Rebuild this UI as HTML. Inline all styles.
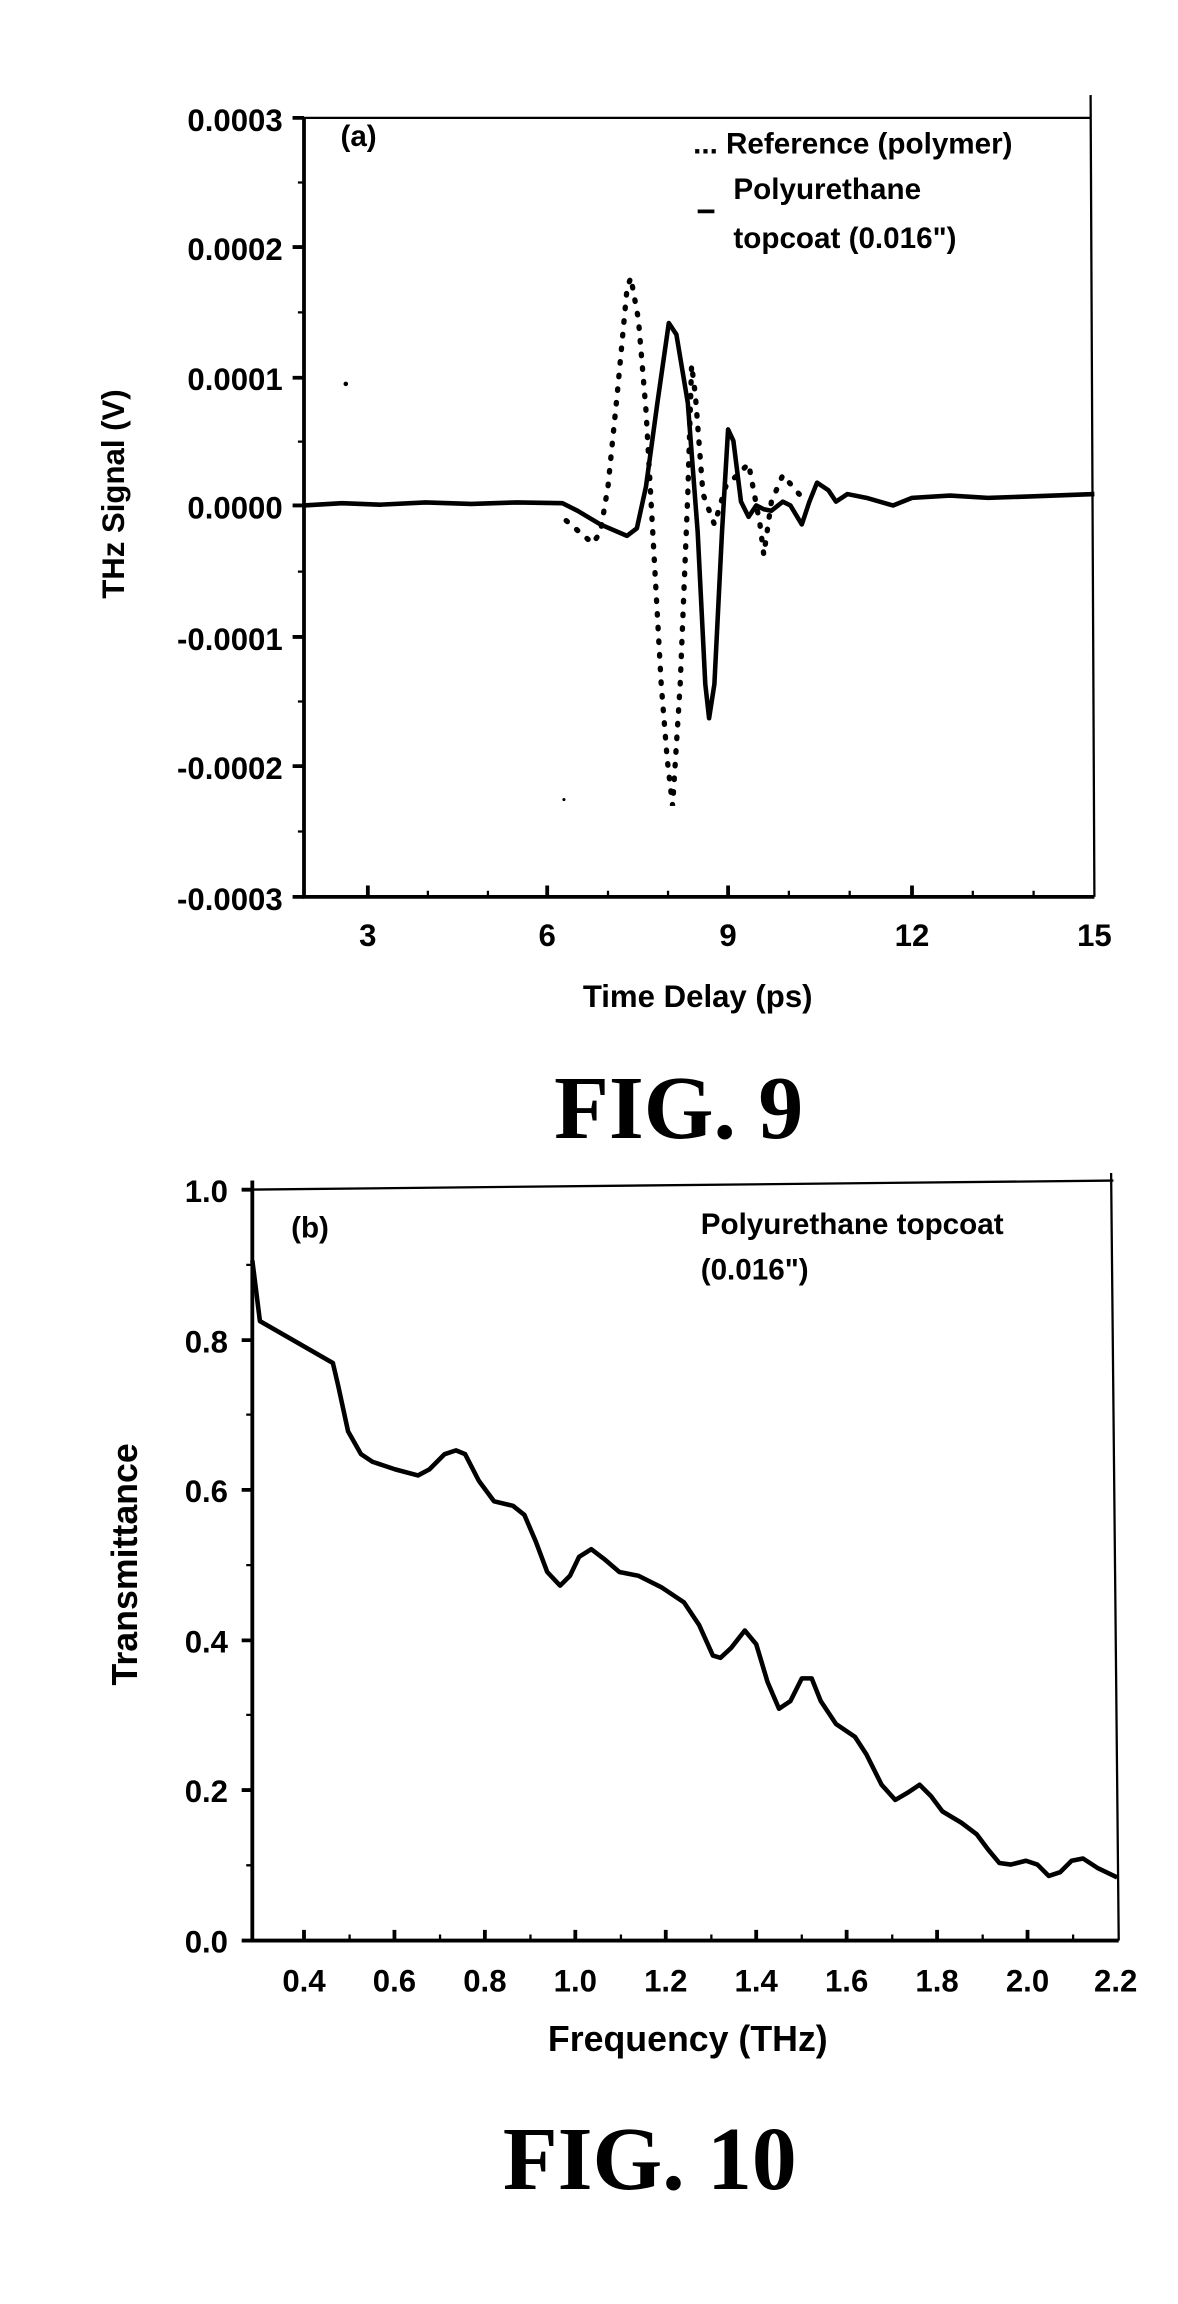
<!DOCTYPE html>
<html><head><style>
html,body{margin:0;padding:0;background:#fff;}
svg{position:absolute;left:0;display:block;}
text{font-family:"Liberation Sans",sans-serif;font-weight:bold;fill:#000;}
.fig{font-family:"Liberation Serif",serif;font-weight:bold;}
</style></head><body>
<svg style="top:0" width="1178" height="1150" viewBox="0 0 1550 1513">
<g stroke="#000" stroke-width="5" fill="none">
<line x1="400" y1="155" x2="400" y2="1182"/>
<line x1="398" y1="1180" x2="1440" y2="1180"/>
<line x1="385" y1="155" x2="1435" y2="155" stroke-width="3"/>
<line x1="1435" y1="125" x2="1440" y2="1180" stroke-width="3"/>
<path d="M385 155H400M385 325H400M385 497H400M385 665H400M385 838H400M385 1008H400M385 1180H400"/>
<path d="M392 240H400M392 411H400M392 581H400M392 752H400M392 923H400M392 1094H400" stroke-width="3"/>
<path d="M484 1180V1165M720 1180V1165M958 1180V1165M1200 1180V1165"/>
<path d="M563 1180V1172M642 1180V1172M800 1180V1172M879 1180V1172M1038 1180V1172M1118 1180V1172M1280 1180V1172M1360 1180V1172" stroke-width="3"/>
<polyline stroke-width="6" stroke-linejoin="round" points="400,665 450,662 500,664 560,661 620,663 680,661 740,662 760,672 790,690 825,705 838,695 850,640 865,530 880,425 890,440 905,530 918,700 928,900 933,945 940,900 950,700 958,565 965,580 975,660 985,680 995,665 1005,670 1015,672 1030,660 1040,665 1055,690 1065,660 1075,635 1090,645 1100,660 1115,650 1140,655 1175,665 1200,655 1250,652 1300,655 1360,653 1440,650"/>
<polyline stroke-width="7" stroke-dasharray="2 16" stroke-linecap="round" points="745,685 780,715 790,700 800,640 812,520 825,380 830,365 840,420 850,540 860,720 870,900 878,1000 885,1060 895,900 905,650 910,480 915,520 925,650 940,690 955,640 965,630 985,610 1000,690 1005,730 1015,660 1030,625 1060,660"/>
<line x1="918" y1="278" x2="940" y2="278" stroke-width="5"/>
</g>
<circle cx="455" cy="505" r="3"/>
<circle cx="742" cy="1052" r="2"/>
<g font-size="41" text-anchor="end">
<text x="372" y="172">0.0003</text>
<text x="372" y="342">0.0002</text>
<text x="372" y="513">0.0001</text>
<text x="372" y="682">0.0000</text>
<text x="372" y="855">-0.0001</text>
<text x="372" y="1025">-0.0002</text>
<text x="372" y="1197">-0.0003</text>
</g>
<g font-size="41" text-anchor="middle">
<text x="484" y="1245">3</text><text x="720" y="1245">6</text><text x="958" y="1245">9</text><text x="1200" y="1245">12</text><text x="1440" y="1245">15</text>
<text x="918" y="1325">Time Delay (ps)</text>
<text transform="translate(163,650) rotate(-90)">THz Signal (V)</text>
</g>
<g font-size="39">
<text x="448" y="192">(a)</text>
<text x="912" y="202">... Reference (polymer)</text>
<text x="965" y="262">Polyurethane</text>
<text x="965" y="326">topcoat (0.016")</text>
</g>
<text class="fig" x="893" y="1497" font-size="118" text-anchor="middle">FIG. 9</text>
</svg>
<svg style="top:1150px" width="1178" height="1154" viewBox="0 0 1550 1518">
<g stroke="#000" stroke-width="5" fill="none">
<line x1="332" y1="40" x2="332" y2="1042"/>
<line x1="330" y1="1040" x2="1472" y2="1040"/>
<line x1="318" y1="52" x2="1465" y2="40" stroke-width="3"/>
<line x1="1462" y1="30" x2="1472" y2="1040" stroke-width="3"/>
<path d="M318 52H332M318 250H332M318 447H332M318 645H332M318 842H332M318 1040H332"/>
<path d="M324 151H332M324 348H332M324 546H332M324 743H332M324 941H332" stroke-width="3"/>
<path d="M400 1040V1026M519 1040V1026M638 1040V1026M757 1040V1026M876 1040V1026M995 1040V1026M1114 1040V1026M1233 1040V1026M1352 1040V1026"/>
<path d="M460 1040V1032M579 1040V1032M698 1040V1032M817 1040V1032M936 1040V1032M1055 1040V1032M1174 1040V1032M1293 1040V1032M1412 1040V1032" stroke-width="3"/>
<polyline stroke-width="6" stroke-linejoin="round" points="332,145 342,225 438,280 445,310 458,370 475,400 490,410 520,420 550,428 565,420 585,400 600,395 612,400 630,435 650,462 675,468 690,480 705,515 720,555 737,573 750,560 762,535 778,525 795,538 815,555 840,560 870,575 900,595 920,625 938,665 948,668 962,655 980,632 995,650 1010,700 1025,735 1040,725 1055,695 1068,695 1080,725 1100,755 1125,772 1140,795 1160,835 1178,855 1195,845 1210,835 1225,850 1240,870 1265,885 1285,900 1300,920 1315,938 1330,940 1350,935 1365,940 1380,955 1395,950 1410,935 1425,932 1445,945 1470,957"/>
</g>
<g font-size="41" text-anchor="end">
<text x="300" y="68">1.0</text><text x="300" y="266">0.8</text><text x="300" y="463">0.6</text><text x="300" y="661">0.4</text><text x="300" y="858">0.2</text><text x="300" y="1056">0.0</text>
</g>
<g font-size="41" text-anchor="middle">
<text x="400" y="1107">0.4</text><text x="519" y="1107">0.6</text><text x="638" y="1107">0.8</text><text x="757" y="1107">1.0</text><text x="876" y="1107">1.2</text><text x="995" y="1107">1.4</text><text x="1114" y="1107">1.6</text><text x="1233" y="1107">1.8</text><text x="1352" y="1107">2.0</text><text x="1468" y="1107">2.2</text>
<text x="905" y="1185" font-size="47">Frequency (THz)</text>
<text transform="translate(180,545) rotate(-90)" font-size="47">Transmittance</text>
</g>
<g font-size="39">
<text x="383" y="115">(b)</text>
<text x="922" y="110">Polyurethane topcoat</text>
<text x="922" y="170">(0.016")</text>
</g>
<text class="fig" x="855" y="1367" font-size="118" text-anchor="middle">FIG. 10</text>
</svg>
</body></html>
